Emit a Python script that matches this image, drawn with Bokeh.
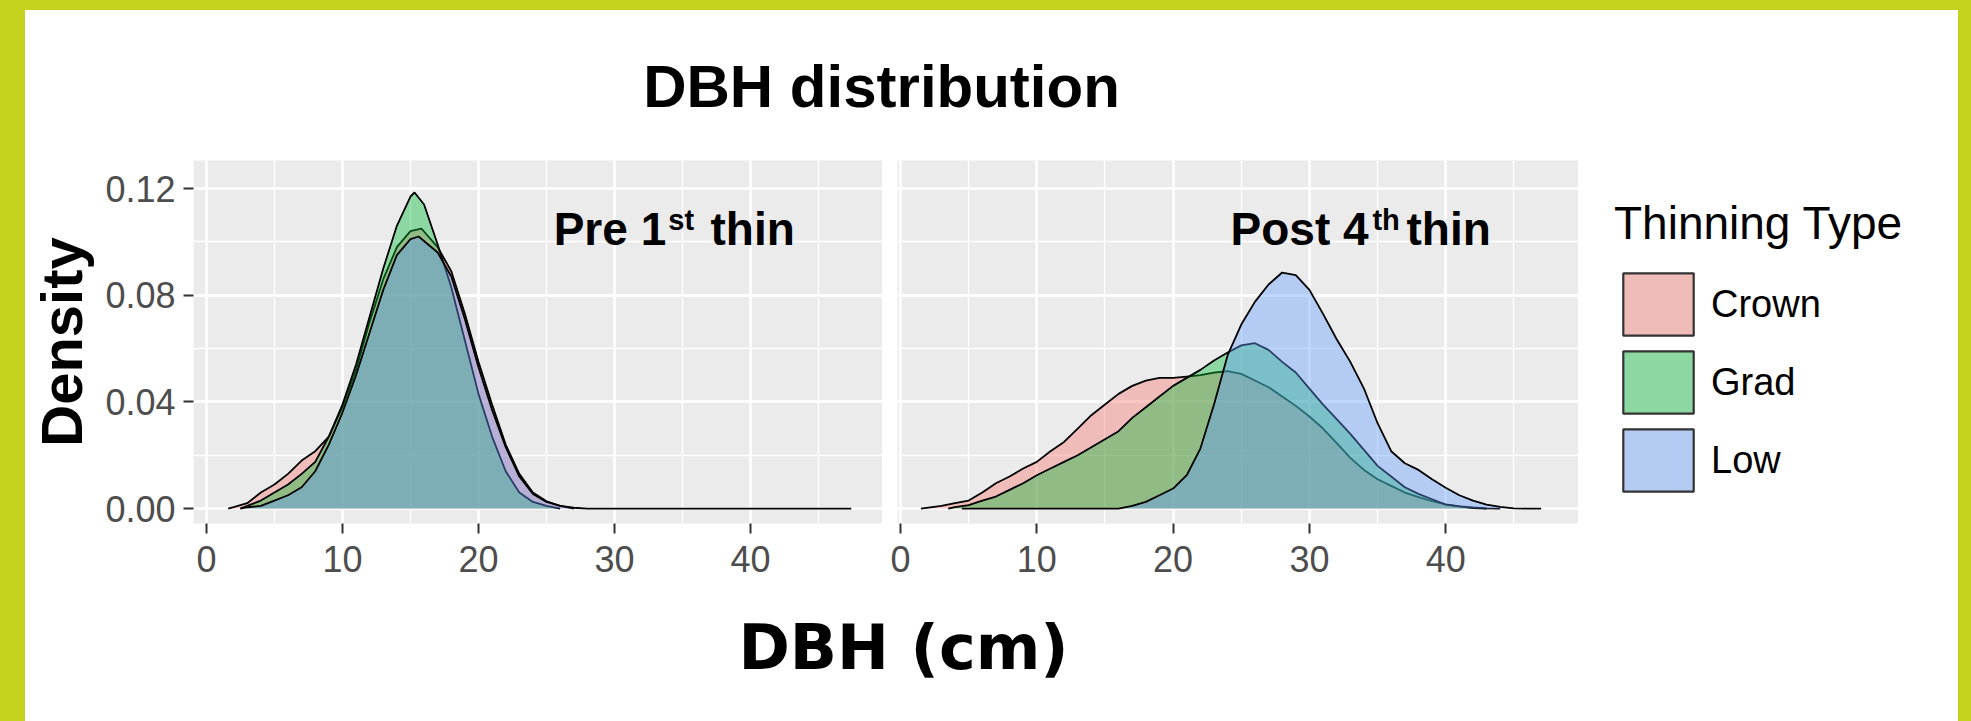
from bokeh.plotting import figure
from bokeh.models import (Range1d, SingleIntervalTicker, PrintfTickFormatter, Legend,
                          LegendItem, Spacer, GlobalInlineStyleSheet)
from bokeh.layouts import row, column
from bokeh.core.properties import value
from bokeh.embed import file_html
from bokeh.resources import INLINE

# ---------------- data ----------------
GROUPS = ["Crown", "Grad", "Low"]
FILLS = ["#F8766D", "#00BA38", "#619CFF"]
LEGEND_FILLS = ["#F0BCB9", "#8DD7A3", "#B4CBF3"]

# Panel 1: Pre 1st thin
PRE_CROWN_X = [1.6, 2, 3, 4, 5, 6, 7, 8, 9, 10, 11, 12, 13, 14, 15, 15.8, 17, 18, 19, 20, 21, 22, 23, 24, 25, 26, 27]
PRE_CROWN_Y = [0, 0.0005, 0.002, 0.006, 0.009, 0.013, 0.018, 0.0215, 0.027, 0.038, 0.052, 0.070, 0.086, 0.098,
               0.104, 0.105, 0.098, 0.089, 0.073, 0.055, 0.039, 0.024, 0.013, 0.006, 0.0027, 0.001, 0]
PRE_GRAD_X = [2.5, 3, 4, 5, 6, 7, 8, 9, 10, 11, 12, 13, 14, 15, 15.3, 16, 17, 18, 19, 20, 21, 22, 23, 24, 25, 26]
PRE_GRAD_Y = [0, 0.001, 0.003, 0.006, 0.009, 0.013, 0.0175, 0.027, 0.039, 0.054, 0.072, 0.090, 0.106, 0.117,
              0.1185, 0.114, 0.099, 0.083, 0.063, 0.043, 0.027, 0.014, 0.006, 0.0025, 0.001, 0]
PRE_LOW_X = [2.5, 3, 4, 5, 6, 7, 8, 9, 10, 11, 12, 13, 14, 15, 15.6, 17, 18, 19, 20, 21, 22, 23, 24, 25, 26, 27, 28, 47.4]
PRE_LOW_Y = [0, 0.0005, 0.001, 0.003, 0.005, 0.008, 0.014, 0.024, 0.036, 0.050, 0.066, 0.082, 0.095, 0.101,
             0.102, 0.096, 0.087, 0.071, 0.053, 0.037, 0.023, 0.012, 0.0055, 0.0025, 0.001, 0.0003, 0, 0]

# Panel 2: Post 4th thin
POST_CROWN_X = [1.5, 3, 4, 5, 6, 7, 8, 9, 10, 11, 12, 13, 14, 15, 16, 17, 18, 19, 20, 21, 22, 23, 24, 25, 26,
                27, 28, 29, 30, 31, 32, 33, 34, 35, 36, 37, 38, 39, 40, 41, 42, 43, 44]
POST_CROWN_Y = [0, 0.001, 0.002, 0.003, 0.006, 0.0095, 0.012, 0.015, 0.0175, 0.0215, 0.025, 0.030, 0.035, 0.039,
                0.043, 0.046, 0.048, 0.049, 0.049, 0.0495, 0.050, 0.051, 0.0515, 0.0505, 0.048, 0.0455, 0.042,
                0.0385, 0.0345, 0.030, 0.0245, 0.019, 0.0145, 0.011, 0.0085, 0.006, 0.0043, 0.0028, 0.0016,
                0.0008, 0.0004, 0.0001, 0]
POST_GRAD_X = [3.5, 4, 5, 6, 7, 8, 9, 10, 11, 12, 13, 14, 15, 16, 17, 18, 19, 20, 21, 22, 23, 24, 25, 26, 27,
               28, 29, 30, 31, 32, 33, 34, 35, 36, 37, 38, 39, 40, 41, 42, 43]
POST_GRAD_Y = [0, 0.0005, 0.0013, 0.003, 0.0045, 0.007, 0.0095, 0.0125, 0.015, 0.0175, 0.020, 0.023, 0.026,
               0.029, 0.034, 0.038, 0.042, 0.046, 0.049, 0.052, 0.0555, 0.0585, 0.0612, 0.062, 0.0595, 0.055,
               0.051, 0.045, 0.039, 0.0335, 0.028, 0.022, 0.016, 0.012, 0.008, 0.0055, 0.0035, 0.0015, 0.0008,
               0.0002, 0]
POST_LOW_X = [4.5, 16, 17, 18, 19, 20, 21, 22, 23, 24, 25, 26, 27, 28, 29, 30, 31, 32, 33, 34, 35, 36, 37, 38,
              39, 40, 41, 42, 43, 44, 45, 46, 47]
POST_LOW_Y = [0, 0, 0.001, 0.0025, 0.005, 0.0075, 0.0125, 0.0225, 0.039, 0.0575, 0.069, 0.0775, 0.084, 0.0885,
              0.0875, 0.082, 0.073, 0.0635, 0.055, 0.045, 0.032, 0.0215, 0.017, 0.0145, 0.011, 0.0078, 0.005,
              0.003, 0.0015, 0.0006, 0.0001, 0, 0]

X_TICK_STEP = 10
Y_TICK_STEP = 0.04
Y_RANGE = (-0.0056, 0.1305)
PRE_X_RANGE = (-0.95, 49.7)
POST_X_RANGE = (-0.22, 49.74)

# facet annotations
PRE_MAIN = (["Pre 1", "thin"], [33.8, 37.06], ["right", "left"])
PRE_SUP = ("st", 33.95)
POST_MAIN = (["Post 4", "thin"], [34.34, 37.12], ["right", "left"])
POST_SUP = ("th", 34.62)
ANN_Y = 0.105
SUP_Y = 0.1082

GREEN = "#C4D21E"
PANEL_BG = "#EBEBEB"
ARIAL = "Liberation Sans"
VERDANA = "DejaVu Sans"


def make_panel(xr, width, left_border, show_y):
    p = figure(width=width, height=440, x_range=Range1d(*xr), y_range=Range1d(*Y_RANGE), title=None,
               output_backend="svg", toolbar_location=None,
               min_border_left=left_border, min_border_right=0, min_border_top=0, min_border_bottom=77)
    p.background_fill_color = PANEL_BG
    p.border_fill_color = "white"
    p.outline_line_color = None
    xt = SingleIntervalTicker(interval=X_TICK_STEP, num_minor_ticks=2)
    yt = SingleIntervalTicker(interval=Y_TICK_STEP, num_minor_ticks=2)
    p.xaxis.ticker = xt
    p.xgrid.ticker = xt
    p.yaxis.ticker = yt
    p.ygrid.ticker = yt
    for g in (p.xgrid, p.ygrid):
        g.grid_line_color = "white"
        g.grid_line_width = 2.4
        g.minor_grid_line_color = "white"
        g.minor_grid_line_width = 1.3
    for ax in (p.xaxis, p.yaxis):
        ax.axis_line_color = None
        ax.major_tick_line_color = "#333333"
        ax.major_tick_line_width = 2
        ax.major_tick_out = 10
        ax.major_tick_in = 0
        ax.minor_tick_line_color = None
        ax.major_label_text_font = ARIAL
        ax.major_label_text_font_size = "36px"
        ax.major_label_text_color = "#4D4D4D"
    p.xaxis.major_label_standoff = 12
    p.yaxis.formatter = PrintfTickFormatter(format="%.2f")
    p.yaxis.major_label_standoff = 8
    if show_y:
        p.yaxis.axis_label = "Density"
        p.yaxis.axis_label_text_font = ARIAL
        p.yaxis.axis_label_text_font_style = "bold"
        p.yaxis.axis_label_text_font_size = "58px"
        p.yaxis.axis_label_text_color = "black"
        p.yaxis.axis_label_standoff = 8
    else:
        p.yaxis.visible = False
    return p


def draw_densities(p, series):
    for (xs, ys), col in zip(series, FILLS):
        p.varea(x=xs, y1=[0] * len(xs), y2=ys, fill_color=col, fill_alpha=0.4)
        p.line(x=xs, y=ys, line_color="black", line_width=1.8)


def annotate(p, main, sup):
    texts, xs, aligns = main
    for t, x, a in zip(texts, xs, aligns):
        p.text(x=[x], y=[ANN_Y], text=[t], text_font=value(ARIAL), text_font_style="bold",
               text_font_size="46px", text_color="black", text_align=a, text_baseline="alphabetic")
    p.text(x=[sup[1]], y=[SUP_Y], text=[sup[0]], text_font=value(ARIAL), text_font_style="bold",
           text_font_size="29px", text_color="black", text_align="left", text_baseline="alphabetic")


p1 = make_panel(PRE_X_RANGE, 857, 168, True)
draw_densities(p1, [(PRE_CROWN_X, PRE_CROWN_Y), (PRE_GRAD_X, PRE_GRAD_Y), (PRE_LOW_X, PRE_LOW_Y)])
annotate(p1, PRE_MAIN, PRE_SUP)

p2 = make_panel(POST_X_RANGE, 696, 15, False)
draw_densities(p2, [(POST_CROWN_X, POST_CROWN_Y), (POST_GRAD_X, POST_GRAD_Y), (POST_LOW_X, POST_LOW_Y)])
annotate(p2, POST_MAIN, POST_SUP)


def blank(width, height):
    f = figure(width=width, height=height, x_range=Range1d(0, width), y_range=Range1d(0, height),
               title=None, output_backend="svg", toolbar_location=None, min_border=0,
               x_axis_location=None, y_axis_location=None)
    f.xgrid.visible = False
    f.ygrid.visible = False
    f.outline_line_color = None
    f.background_fill_color = "white"
    f.border_fill_color = "white"
    return f


# legend figure
lf = blank(380, 440)
items = []
NAN = [float("nan")]
for g, c in zip(GROUPS, LEGEND_FILLS):
    r = lf.patch(x=NAN, y=NAN, fill_color=c, line_color="#333333", line_width=2.2)
    items.append(LegendItem(label=g, renderers=[r]))
legend = Legend(items=items, location="top_left", title="Thinning Type",
                title_text_font=ARIAL, title_text_font_size="46px",
                title_text_font_style="normal", title_text_color="black", title_standoff=15,
                label_text_font=ARIAL, label_text_font_size="38px", label_text_color="black",
                label_standoff=9, glyph_width=88, glyph_height=78, label_height=78, spacing=0,
                padding=0, margin=36, border_line_color=None, background_fill_alpha=0)
lf.add_layout(legend)

# title figure
tf = blank(1933, 150)
tf.text(x=[856], y=[74], text=["DBH distribution"], text_font=value(ARIAL), text_font_style="bold",
        text_font_size="60px", text_color="black", text_align="center", text_baseline="alphabetic")

# x-axis label figure
xf = blank(1933, 121)
xf.text(x=[878], y=[74], text=["DBH (cm)"], text_font=value(VERDANA), text_font_style="bold",
        text_font_size="62px", text_color="black", text_align="center", text_baseline="alphabetic")

main = column(Spacer(width=1933, height=10, styles={"background-color": GREEN}), tf, row(p1, p2, lf), xf,
              styles={"background-color": "white"})
layout = row(Spacer(width=25, height=721), main, Spacer(width=13, height=721))
layout.stylesheets = [GlobalInlineStyleSheet(css="body { background-color: %s; }" % GREEN)]

open("out.html", "w").write(file_html(layout, INLINE))
